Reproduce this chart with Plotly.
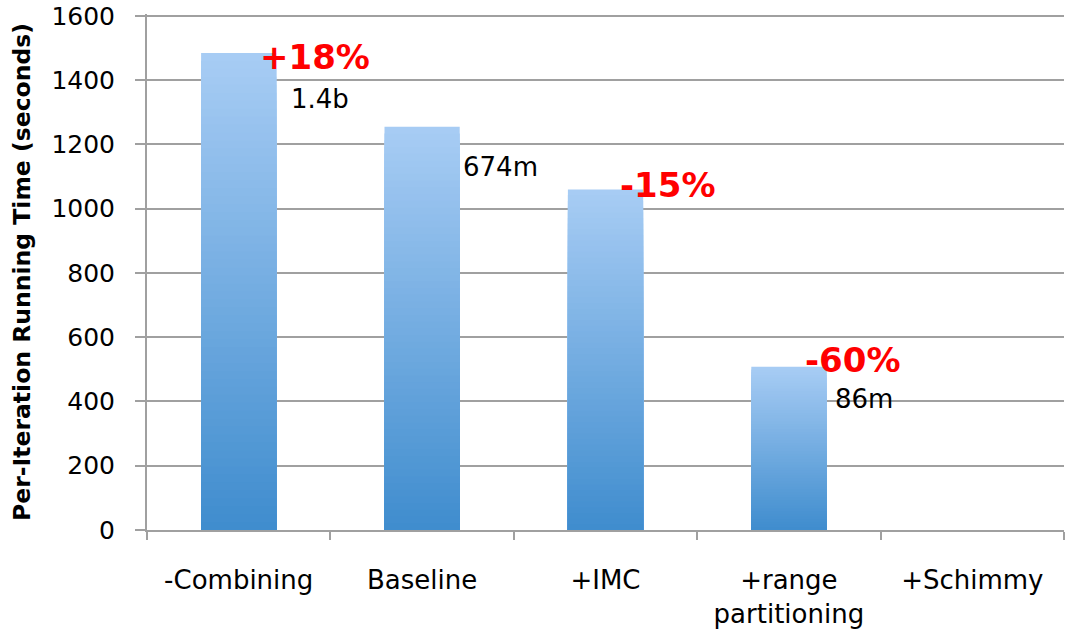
import plotly.graph_objects as go

categories = ["-Combining", "Baseline", "+IMC", "+range<br>partitioning", "+Schimmy"]
values = [1485, 1255, 1060, 508, None]
y_ticks = [0, 200, 400, 600, 800, 1000, 1200, 1400, 1600]

# annotation texts (category index, text, style)
ann_cats = [0, 0, 1, 2, 3, 3]
ann_texts = ["+18%", "1.4b", "674m", "-15%", "-60%", "86m"]
ann_red = [True, False, False, True, True, False]
# placement (layout only)
ann_y = [1472, 1341, 1131, 1073, 530, 407]
ann_xshift = [76, 81, 78, 62, 64, 75]

FONT = "DejaVu Sans"
top_rgb = (167, 204, 244)
bot_rgb = (64, 141, 206)
N = 60

fig = go.Figure()
# draw the gradient as overlapping bars: tallest (lightest) first, shorter (darker) on top
for k in range(N, 0, -1):
    t = (k - 1) / (N - 1)
    c = tuple(round(bot_rgb[i] + (top_rgb[i] - bot_rgb[i]) * t) for i in range(3))
    ys = [None if v is None else v * k / N for v in values]
    fig.add_trace(go.Bar(
        x=categories, y=ys,
        marker=dict(color="rgb(%d,%d,%d)" % c, line=dict(width=0)),
        showlegend=False, hoverinfo="skip",
    ))

for ci, txt, red, yy, xs in zip(ann_cats, ann_texts, ann_red, ann_y, ann_xshift):
    fig.add_annotation(
        x=categories[ci], y=yy, xref="x", yref="y", xshift=xs,
        text=txt, showarrow=False, xanchor="center", yanchor="middle",
        font=dict(family=FONT, size=34 if red else 26,
                  color="#ff0000" if red else "#000000",
                  weight="bold" if red else "normal"),
    )

fig.update_layout(
    width=1068, height=632,
    margin=dict(l=147, r=4, t=14, b=102),
    plot_bgcolor="white", paper_bgcolor="white",
    barmode="overlay", bargap=0.59,
    font=dict(family=FONT, size=24, color="black"),
)
fig.update_xaxes(
    type="category", tickson="boundaries", ticks="outside", ticklen=8,
    tickcolor="#a0a0a0", tickwidth=2, showline=True, linecolor="#a0a0a0",
    linewidth=2, showgrid=False, tickfont=dict(family=FONT, size=26),
    ticklabelstandoff=26, automargin=False,
)
fig.update_yaxes(
    range=[0, 1606], tickvals=y_ticks, ticks="outside", ticklen=10,
    tickcolor="#a0a0a0", tickwidth=2, showline=True, linecolor="#a0a0a0",
    linewidth=2, gridcolor="#a0a0a0", gridwidth=2, zeroline=False,
    tickfont=dict(family=FONT, size=25), ticklabelstandoff=15,
    ticklabeloverflow="allow", automargin=False,
    title=dict(text="<b>Per-Iteration Running Time (seconds)</b>",
               font=dict(family=FONT, size=23.5), standoff=14),
)

fig.write_html("out.html")
